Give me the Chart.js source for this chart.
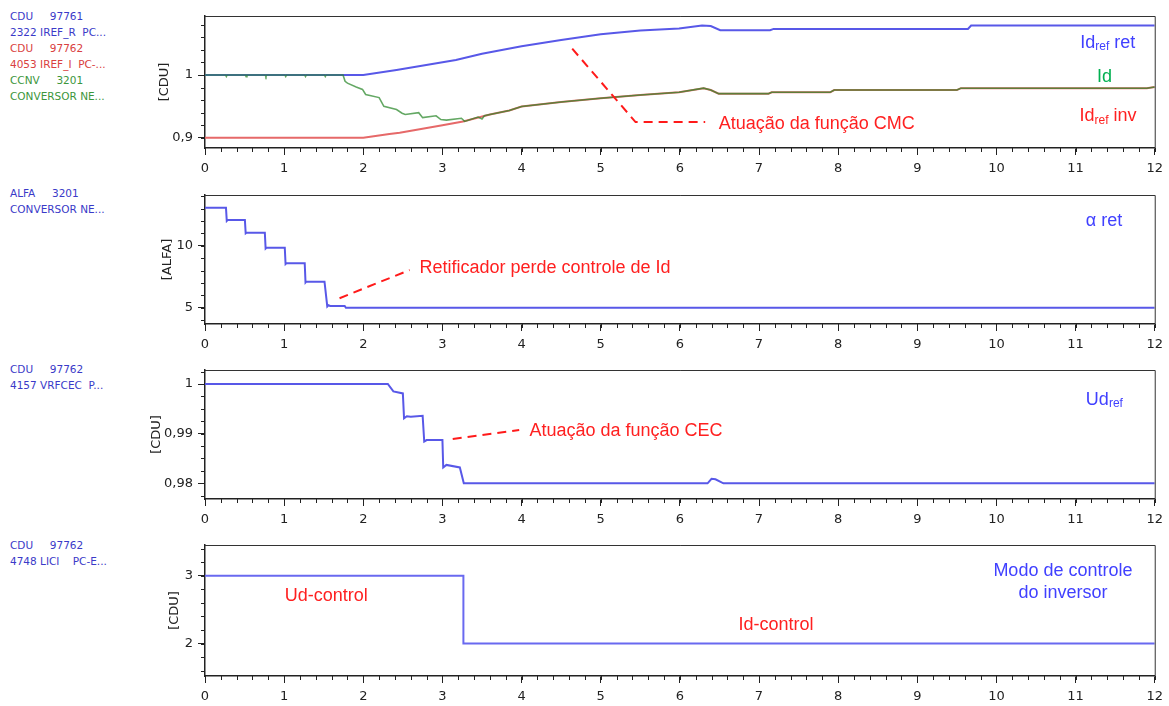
<!DOCTYPE html>
<html>
<head>
<meta charset="utf-8">
<script src="https://cdn.jsdelivr.net/npm/chart.js@4.4.0/dist/chart.umd.min.js"></script>
<style>
body { margin: 0; background: #fff; width: 1169px; height: 706px; overflow: hidden; position: relative; font-family: 'DejaVu Sans', sans-serif; }
.leg { position: absolute; left: 10px; font-size: 10.5px; line-height: 16px; white-space: pre; }
.blue { color: #3a3ac8; } .red { color: #d94040; } .green { color: #3c963c; }
canvas { position: absolute; }
</style>
</head>
<body>
<div class="leg" style="top:8px"><span class="blue">CDU     97761
2322 IREF_R  PC...</span>
<span class="red">CDU     97762
4053 IREF_I  PC-...</span>
<span class="green">CCNV     3201
CONVERSOR NE...</span></div>
<div class="leg blue" style="top:185px">ALFA     3201
CONVERSOR NE...</div>
<div class="leg blue" style="top:361px">CDU     97762
4157 VRFCEC  P...</div>
<div class="leg blue" style="top:537px">CDU     97762
4748 LICI    PC-E...</div>

<canvas id="chart1"></canvas>
<canvas id="chart2"></canvas>
<canvas id="chart3"></canvas>
<canvas id="chart4"></canvas>

<script>
// tempo [s]
const xTicks = [0, 1, 2, 3, 4, 5, 6, 7, 8, 9, 10, 11, 12];

// grafico 1 - correntes
const idRetT = [0, 2.0, 2.42, 3.17, 3.5, 4.0, 4.5, 5.0, 5.5, 5.99, 6.28, 6.39, 6.51, 7.14, 7.185, 9.64, 9.68, 12];
const idRetV = [1.0, 1.0, 1.008, 1.024, 1.034, 1.046, 1.056, 1.065, 1.071, 1.074, 1.079, 1.078, 1.0714, 1.0714, 1.0735, 1.0735, 1.079, 1.079];

const idInvT = [0, 2.0, 2.33, 2.46, 3.0, 3.26, 3.6, 3.845, 4.0, 4.5, 5.0, 5.5, 5.99, 6.30, 6.39, 6.49, 7.12, 7.16, 7.9, 7.95, 9.5, 9.55, 11.9, 12];
const idInvV = [0.9, 0.9, 0.906, 0.908, 0.920, 0.926, 0.937, 0.9435, 0.9497, 0.957, 0.963, 0.968, 0.9725, 0.979, 0.976, 0.9703, 0.9703, 0.9725, 0.9725, 0.976, 0.976, 0.979, 0.979, 0.981];

const idT = [0, 0.26, 0.27, 0.28, 0.51, 0.52, 0.53, 0.76, 0.77, 0.78, 1.01, 1.02, 1.03, 1.26, 1.27, 1.28, 1.51, 1.52, 1.53,
  1.744, 1.77, 1.80, 1.91, 1.99, 2.03, 2.20, 2.26, 2.42, 2.49, 2.53, 2.70, 2.75, 2.92, 2.98, 3.05, 3.24, 3.28, 3.45, 3.5, 3.53, 3.6,
  3.845, 4.0, 4.5, 5.0, 5.5, 5.99, 6.30, 6.39, 6.49, 7.12, 7.16, 7.9, 7.95, 9.5, 9.55, 11.9, 12];
const idV = [1, 1, 0.9975, 1, 1, 0.9975, 1, 1, 0.9975, 1, 1, 0.9975, 1, 1, 0.9975, 1, 1, 0.9975, 1,
  1.0, 0.99, 0.987, 0.981, 0.977, 0.969, 0.964, 0.95, 0.945, 0.939, 0.937, 0.940, 0.932, 0.935, 0.929, 0.928, 0.931, 0.926, 0.933, 0.930, 0.935, 0.937,
  0.9435, 0.9497, 0.957, 0.963, 0.968, 0.9725, 0.979, 0.976, 0.9703, 0.9703, 0.9725, 0.9725, 0.976, 0.976, 0.979, 0.979, 0.981];
const yTicks1 = [0.9, 1];

// grafico 2 - alfa retificador
const alfaT = [0, 0.265, 0.275, 0.285, 0.504, 0.514, 0.524, 0.756, 0.766, 0.776, 1.008, 1.018, 1.028, 1.26, 1.27, 1.28, 1.51, 1.545, 1.56, 1.58, 1.765, 1.78, 12];
const alfaV = [13.06, 13.06, 12.0, 12.07, 12.07, 11.0, 11.05, 11.05, 9.78, 9.84, 9.84, 8.52, 8.58, 8.58, 7.03, 7.10, 7.10, 5.1, 5.2, 5.14, 5.14, 5.0, 5.0];
const yTicks2 = [5, 10];

// grafico 3 - Ud ref
const udT = [0, 2.31, 2.38, 2.5, 2.515, 2.55, 2.6, 2.75, 2.77, 2.8, 3.0, 3.01, 3.05, 3.22, 3.27, 6.35, 6.4, 6.45, 6.55, 12];
const udV = [1.0, 1.0, 0.9985, 0.9981, 0.9931, 0.9935, 0.9934, 0.9936, 0.9884, 0.9887, 0.9887, 0.9832, 0.9837, 0.9832, 0.98, 0.98, 0.9809, 0.9808, 0.98, 0.98];
const yTicks3 = [0.98, 0.99, 1];

// grafico 4 - modo de controle
const modoT = [0, 3.265, 3.265, 12];
const modoV = [3, 3, 2, 2];
const yTicks4 = [2, 3];

const BLUE = 'rgb(88,88,232)';
const FONT = "'DejaVu Sans', sans-serif";
const ANN = "'Liberation Sans', Arial, sans-serif";

function pts(t, v) { return t.map((x, i) => ({ x: x, y: v[i] })); }

// caixa, ticks menores e anotacoes
const extras = {
  id: 'extras',
  afterDraw(chart, args, o) {
    const { ctx, chartArea: a, scales: { x, y } } = chart;
    ctx.save();
    ctx.strokeStyle = '#333';
    ctx.lineWidth = 1;
    ctx.beginPath();
    ctx.moveTo(a.left, a.top + 0.5); ctx.lineTo(a.right + 0.5, a.top + 0.5); ctx.lineTo(a.right + 0.5, a.bottom);
    ctx.stroke();

    ctx.strokeStyle = '#222';
    ctx.beginPath();
    for (let i = 0; i <= 60; i++) {
      const px = Math.round(x.getPixelForValue(i * 0.2)) + 0.5;
      ctx.moveTo(px, a.bottom); ctx.lineTo(px, a.bottom + 4);
    }
    const st = o.yMinor;
    for (let i = Math.ceil(y.min / st); i * st <= y.max; i++) {
      const py = Math.round(y.getPixelForValue(i * st)) + 0.5;
      ctx.moveTo(a.left, py); ctx.lineTo(a.left - 4, py);
    }
    ctx.stroke();

    ctx.strokeStyle = '#ff1a1a';
    ctx.lineWidth = 2;
    ctx.setLineDash([9, 6]);
    (o.lines || []).forEach(l => {
      ctx.beginPath();
      l.forEach((p, i) => {
        const px = x.getPixelForValue(p[0]), py = y.getPixelForValue(p[1]);
        if (i === 0) ctx.moveTo(px, py); else ctx.lineTo(px, py);
      });
      ctx.stroke();
    });
    ctx.setLineDash([]);

    ctx.textBaseline = 'middle';
    (o.texts || []).forEach(tx => {
      let px = x.getPixelForValue(tx.t);
      const py = y.getPixelForValue(tx.v);
      let w = 0;
      tx.parts.forEach(p => { ctx.font = p[1] + 'px ' + ANN; w += ctx.measureText(p[0]).width; });
      if (tx.align === 'center') px -= w / 2;
      ctx.fillStyle = tx.color;
      tx.parts.forEach(p => {
        ctx.font = p[1] + 'px ' + ANN;
        ctx.fillText(p[0], px, py + p[2]);
        px += ctx.measureText(p[0]).width;
      });
    });
    ctx.restore();
  }
};

function makeChart(id, c) {
  const el = document.getElementById(id);
  const left = 205 - c.yWidth;
  el.width = 1169 - left;
  el.height = c.height;
  el.style.left = left + 'px';
  el.style.top = c.top + 'px';
  return new Chart(el.getContext('2d'), {
    type: 'line',
    data: { datasets: c.datasets },
    options: {
      responsive: false,
      animation: false,
      layout: { padding: { top: c.areaTop - c.top, right: 12, left: 0, bottom: 0 } },
      elements: { point: { radius: 0 }, line: { tension: 0 } },
      plugins: { legend: { display: false }, tooltip: { enabled: false }, extras: c.extras },
      scales: {
        x: {
          type: 'linear', min: 0, max: 12,
          afterBuildTicks: s => { s.ticks = xTicks.map(v => ({ value: v })); },
          afterFit: s => { s.height = c.top + c.height - c.areaBottom; },
          grid: { drawOnChartArea: false, tickLength: 7, color: '#222' },
          border: { color: '#222', width: 1.5 },
          ticks: { padding: 6, color: '#222', font: { family: FONT, size: 13 }, maxRotation: 0 }
        },
        y: {
          min: c.yMin, max: c.yMax,
          afterBuildTicks: s => { s.ticks = c.yTicks.map(v => ({ value: v })); },
          afterFit: s => { s.width = c.yWidth; },
          grid: { drawOnChartArea: false, tickLength: 7, color: '#222' },
          border: { color: '#222', width: 1.5 },
          ticks: { padding: 5, color: '#222', font: { family: FONT, size: 13 }, callback: v => String(v).replace('.', ',') },
          title: { display: true, text: c.yTitle, color: '#222', padding: 0, font: { family: FONT, size: 13 } }
        }
      }
    },
    plugins: [extras]
  });
}

const myChart1 = makeChart('chart1', {
  top: 0, height: 180, areaTop: 16, areaBottom: 148, yWidth: 48,
  yMin: 0.8836, yMax: 1.0941, yTicks: yTicks1, yTitle: '[CDU]',
  datasets: [
    { data: pts(idT, idV), borderColor: 'rgba(40,135,40,0.72)', borderWidth: 1.6 },
    { data: pts(idInvT, idInvV), borderColor: 'rgb(230,105,105)', borderWidth: 2 },
    { data: pts(idRetT, idRetV), borderColor: BLUE, borderWidth: 2 }
  ],
  extras: {
    yMinor: 0.02,
    lines: [[[4.64, 1.042], [5.44, 0.925], [6.32, 0.925]]],
    texts: [
      { t: 11.06, v: 1.0513, color: '#4040ff', parts: [['Id', 18, 0], ['ref', 12, 4], [' ret', 18, 0]] },
      { t: 11.27, v: 0.9973, color: '#00b050', parts: [['Id', 18, 0]] },
      { t: 11.05, v: 0.9338, color: '#ff2020', parts: [['Id', 18, 0], ['ref', 12, 4], [' inv', 18, 0]] },
      { t: 6.49, v: 0.9222, color: '#ff2020', parts: [['Atuação da função CMC', 18, 0]] }
    ]
  }
});

const myChart2 = makeChart('chart2', {
  top: 180, height: 175, areaTop: 195, areaBottom: 324, yWidth: 45,
  yMin: 3.685, yMax: 14.09, yTicks: yTicks2, yTitle: '[ALFA]',
  datasets: [{ data: pts(alfaT, alfaV), borderColor: BLUE, borderWidth: 2 }],
  extras: {
    yMinor: 1,
    lines: [[[1.70, 5.76], [2.585, 8.04]]],
    texts: [
      { t: 2.71, v: 8.2, color: '#ff2020', parts: [['Retificador perde controle de Id', 18, 0]] },
      { t: 11.13, v: 11.99, color: '#4040ff', parts: [['α ret', 18, 0]] }
    ]
  }
});

const myChart3 = makeChart('chart3', {
  top: 355, height: 175, areaTop: 370, areaBottom: 499, yWidth: 56,
  yMin: 0.97684, yMax: 1.00282, yTicks: yTicks3, yTitle: '[CDU]',
  datasets: [{ data: pts(udT, udV), borderColor: BLUE, borderWidth: 2 }],
  extras: {
    yMinor: 0.0025,
    lines: [[[3.13, 0.98892], [3.97, 0.99074]]],
    texts: [
      { t: 4.10, v: 0.99053, color: '#ff2020', parts: [['Atuação da função CEC', 18, 0]] },
      { t: 11.13, v: 0.99678, color: '#4040ff', parts: [['Ud', 18, 0], ['ref', 12, 4]] }
    ]
  }
});

const myChart4 = makeChart('chart4', {
  top: 530, height: 176, areaTop: 545, areaBottom: 676, yWidth: 38,
  yMin: 1.5222, yMax: 3.454, yTicks: yTicks4, yTitle: '[CDU]',
  datasets: [{ data: pts(modoT, modoV), borderColor: 'rgb(105,105,240)', borderWidth: 2 }],
  extras: {
    yMinor: 0.2,
    texts: [
      { t: 1.008, v: 2.704, color: '#ff2020', parts: [['Ud-control', 18, 0]] },
      { t: 6.74, v: 2.271, color: '#ff2020', parts: [['Id-control', 18, 0]] },
      { t: 10.84, v: 3.074, color: '#4040ff', align: 'center', parts: [['Modo de controle', 18, 0]] },
      { t: 10.84, v: 2.749, color: '#4040ff', align: 'center', parts: [['do inversor', 18, 0]] }
    ]
  }
});
</script>
</body>
</html>
